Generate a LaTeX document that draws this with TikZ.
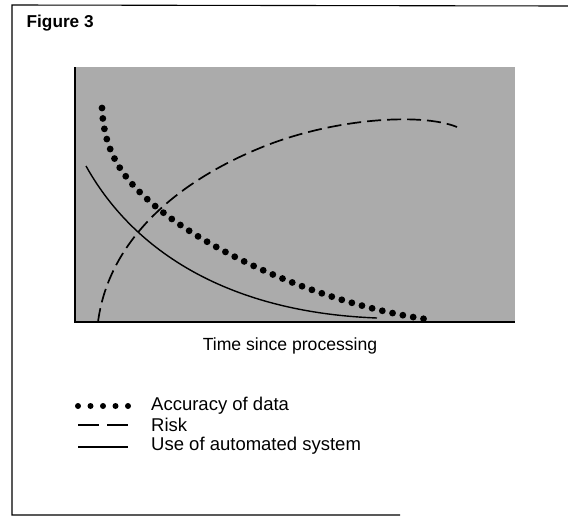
\documentclass[tikz,border=0pt]{standalone}
\usepackage{fontspec}
\setmainfont{Liberation Sans}
\begin{document}
\begin{tikzpicture}[x={(1pt,0)}, y={(0,-1pt)}]
	\useasboundingbox (0,0) rectangle (568,520);

	% frame
	\draw[line width=1.1pt] (568,6) -- (12,5) -- (12,515) -- (400,515);
	\node[anchor=base west, font=\fontsize{17.2}{20}\selectfont\bfseries, inner sep=0pt] (title) at (26.5,27.5) {Figure 3};

	% plot area
	\fill[black!33] (75,67) rectangle (515,322);
	\draw[line width=1.1pt] (75,67) -- (75,322) -- (515,322);

	\draw[line width=1.7pt, dash pattern=on 14pt off 6pt]
		(98,322) .. controls (108,245) and (170,185) .. (260,148)
		.. controls (330,119) and (420,112) .. (457,127);
	\draw[line width=6.8pt, line cap=round, dash pattern=on 0pt off 10.5pt]
		(102,108) .. controls (104,150) and (120,178) .. (160,210)
		.. controls (220,258) and (330,305) .. (425,319);
	\draw[line width=1.4pt]
		(86,166) .. controls (130,245) and (220,312) .. (377,318);

	\node[font=\fontsize{17.6}{20}\selectfont] (xlabel) at (290,346) {Time since processing};

	% legend
	\foreach \x in {78,90.5,103,115.5,128}
		\fill (\x,406) circle (3pt);
	\coordinate (r1) at (78,425);
	\coordinate (r2) at (128,425);
	\draw[line width=1.2pt, dash pattern=on 21pt off 8pt] (r1) -- (r2);
	\coordinate (u1) at (78,447);
	\coordinate (u2) at (128,447);
	\draw[line width=1.2pt] (u1) -- (u2);

	\node[anchor=west, font=\fontsize{18.5}{20}\selectfont, inner sep=0pt] (acc)  at (151,406) {Accuracy of data};
	\node[anchor=west, font=\fontsize{18.5}{20}\selectfont, inner sep=0pt] (risk) at (151,425) {Risk};
	\node[anchor=west, font=\fontsize{18.5}{20}\selectfont, inner sep=0pt] (use)  at (151,446) {Use of automated system};
\end{tikzpicture}
\end{document}
